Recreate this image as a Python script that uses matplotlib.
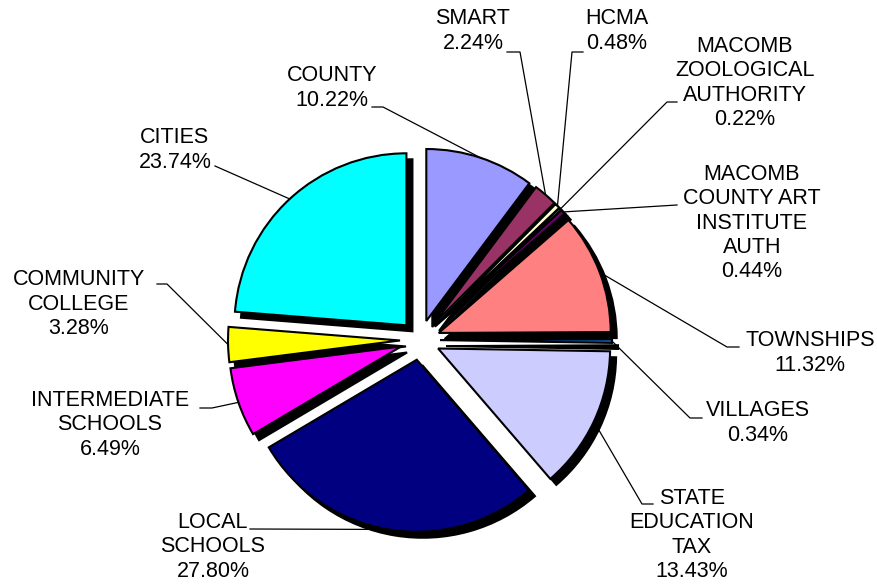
import numpy as np
import matplotlib
matplotlib.use("Agg")
import matplotlib.pyplot as plt

# ---- data ----
categories = ["COUNTY", "SMART", "HCMA", "MACOMB\nZOOLOGICAL\nAUTHORITY",
              "MACOMB\nCOUNTY ART\nINSTITUTE\nAUTH", "TOWNSHIPS", "VILLAGES",
              "STATE\nEDUCATION\nTAX", "LOCAL\nSCHOOLS", "INTERMEDIATE\nSCHOOLS",
              "COMMUNITY\nCOLLEGE", "CITIES"]
values = [10.22, 2.24, 0.48, 0.22, 0.44, 11.32, 0.34, 13.43, 27.80, 6.49, 3.28, 23.74]
colors = ["#9999FF", "#993366", "#FFFFCC", "#CCFFFF", "#660066", "#FF8080",
          "#0066CC", "#CCCCFF", "#000080", "#FF00FF", "#FFFF00", "#00FFFF"]

W, H = 878, 584
fig = plt.figure(figsize=(W / 100, H / 100), dpi=100)
ax = fig.add_axes([0, 0, 1, 1])

def P(x, y):
    return (x, H - y)

cx, cy = 420, 340
R = 172
expl = [20] * len(values)  # offset in data units (pixels)

# shadow
ax.pie(values, explode=expl, radius=R, center=P(cx + 6, cy + 6), startangle=90,
       counterclock=False, colors=["black"] * len(values),
       wedgeprops=dict(edgecolor="black", linewidth=1.5))
wedges, _ = ax.pie(values, explode=expl, radius=R, center=P(cx, cy), startangle=90,
                   counterclock=False, colors=colors,
                   wedgeprops=dict(edgecolor="black", linewidth=1.5))

# label layout (pixel coords): text centre, leader path points
layout = [
    ((332, 88), [(383, 107), (372, 107)]),
    ((473, 31), [(520, 52), (507, 52)]),
    ((617, 31), [(572, 52), (583, 52)]),
    ((745, 83), [(667, 102), (677, 102)]),
    ((752, 223), [(677, 205)]),
    ((810, 353), [(727, 347), (739, 347)]),
    ((758, 423), [(690, 418), (702, 418)]),
    ((692, 535), [(642, 504), (653, 504)]),
    ((213, 547), [(250, 529)]),
    ((110, 425), [(212, 408), (200, 408)]),
    ((79, 304), [(167, 284), (157, 284)]),
    ((175, 150), [(215, 166)]),
]

for w, cat, v, (tc, path) in zip(wedges, categories, values, layout):
    th = np.deg2rad((w.theta1 + w.theta2) / 2)
    x0 = w.center[0] + w.r * np.cos(th)
    y0 = w.center[1] + w.r * np.sin(th)
    xs = [x0] + [p[0] for p in path]
    ys = [y0] + [H - p[1] for p in path]
    ax.plot(xs, ys, color="black", linewidth=0.9, zorder=1)
    ax.text(*P(*tc), f"{cat}\n{v:.2f}%", ha="center", va="center",
            multialignment="center", fontsize=15.5, family="Liberation Sans",
            linespacing=1.2, zorder=5)

ax.set_xlim(0, W)
ax.set_ylim(0, H)
ax.set_aspect("equal")
ax.set_axis_off()
fig.savefig("out.png", dpi=100, facecolor="white")
